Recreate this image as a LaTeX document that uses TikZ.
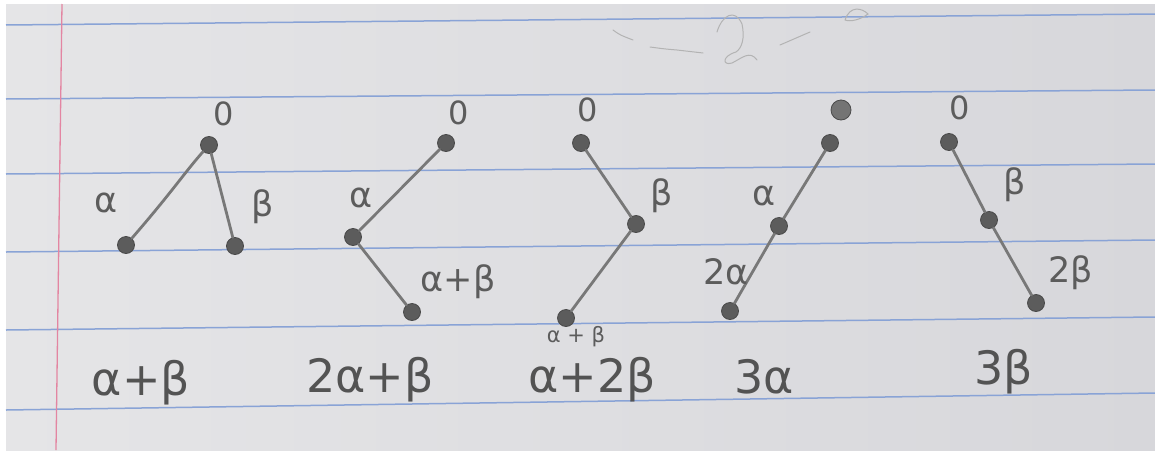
\documentclass[tikz,border=0pt]{standalone}
\usepackage{fontspec}
\newfontfamily\hand{DejaVu Sans}
\usetikzlibrary{calc}
\definecolor{paper}{HTML}{E5E5E7}
\definecolor{paperdark}{HTML}{D7D7DB}
\definecolor{ruleblue}{HTML}{89A3D6}
\definecolor{marginred}{HTML}{E385A2}
\definecolor{pencil}{HTML}{5C5C5C}
\definecolor{pencillight}{HTML}{787878}
\definecolor{faint}{HTML}{B3B3B3}
\tikzset{
  vtx/.style={circle, fill=pencil, draw=pencil!80!black, line width=0.8pt, minimum size=17pt, inner sep=0pt},
  edgeline/.style={draw=pencillight, line width=2.8pt, line cap=round},
  lbl/.style={text=pencil, inner sep=0pt, font=\hand\fontsize{35}{37}\selectfont},
  smalllbl/.style={text=pencil, inner sep=0pt, font=\hand\fontsize{21}{23}\selectfont},
  biglbl/.style={text=pencil!90!black, inner sep=0pt, font=\hand\fontsize{46}{50}\selectfont},
  zerolbl/.style={text=pencil, inner sep=0pt, font=\hand\fontsize{32}{34}\selectfont},
  ruleline/.style={draw=ruleblue, line width=1.5pt},
  marginline/.style={draw=marginred, line width=1.3pt},
  scribble/.style={draw=faint, line width=1pt, line cap=round}
}
\begin{document}
\begin{tikzpicture}[x=1pt,y=-1pt]
\useasboundingbox (0,0) rectangle (1155,450);
\fill[white] (0,0) rectangle (1155,450);
\shade[left color=paper, right color=paperdark] (6,4) rectangle (1155,450);
% ruled lines
\foreach \a/\b in {25/14, 99/90, 174/164, 252/240, 330/317, 410/393}
  \draw[ruleline] (6,\a) -- (1155,\b);
% margin
\draw[marginline] (62,4) -- (56,450);
% faint scribbles
\draw[scribble] (613,30) .. controls (620,35) .. (633,40);
\draw[scribble] (650,47) .. controls (665,49) .. (677,50) .. controls (690,52) .. (703,53);
\draw[scribble] (717,32) .. controls (722,15) and (735,8) .. (742,24) .. controls (745,38) and (742,48) .. (736,52) .. controls (722,56) and (722,66) .. (732,63) .. controls (742,58) and (750,50) .. (757,60);
\draw[scribble] (780,45) -- (810,32);
\draw[scribble] (845,20) .. controls (850,5) and (862,8) .. (868,14) .. controls (860,20) and (850,22) .. (845,20);

% graph 1
\node[vtx] (t1) at (209,145) {};
\node[vtx] (l1) at (126,245) {};
\node[vtx] (r1) at (235,246) {};
\draw[edgeline] (t1) .. controls (185,172) and (172,192) .. (l1);
\draw[edgeline] (t1) -- (r1);
\node[zerolbl] (z1) at (224,114) {0};
\node[lbl] (a1) at (106,203) {α};
\node[lbl] (b1) at (263,207) {β};

% graph 2
\node[vtx] (t2) at (446,143) {};
\node[vtx] (m2) at (353,237) {};
\node[vtx] (b2) at (412,312) {};
\draw[edgeline] (t2) -- (m2);
\draw[edgeline] (m2) -- (b2);
\node[zerolbl] (z2) at (459,113) {0};
\node[lbl] (a2) at (361,198) {α};
\node[lbl] (ab2) at (458,282) {α+β};

% graph 3
\node[vtx] (t3) at (581,143) {};
\node[vtx] (m3) at (636,224) {};
\node[vtx] (b3) at (566,318) {};
\draw[edgeline] (t3) -- (m3);
\draw[edgeline] (m3) -- (b3);
\node[zerolbl] (z3) at (588,110) {0};
\node[lbl] (bb3) at (662,196) {β};
\node[smalllbl] (ab3) at (576,337) {α + β};

% graph 4
\node[vtx, fill=pencil!85, minimum size=20pt] (z4) at (841,110) {};
\node[vtx] (t4) at (830,143) {};
\node[vtx] (m4) at (779,226) {};
\node[vtx] (b4) at (730,311) {};
\draw[edgeline] (t4) -- (m4);
\draw[edgeline] (m4) -- (b4);
\node[lbl] (a4) at (764,196) {α};
\node[lbl] (aa4) at (726,272) {2α};

% graph 5
\node[vtx] (t5) at (949,142) {};
\node[vtx] (m5) at (989,220) {};
\node[vtx] (b5) at (1036,303) {};
\draw[edgeline] (t5) -- (m5);
\draw[edgeline] (m5) -- (b5);
\node[zerolbl] (z5) at (960,108) {0};
\node[lbl] (bb5) at (1015,185) {β};
\node[lbl] (bbb5) at (1071,273) {2β};

% bottom labels
\node[biglbl] (s1) at (141,383) {α+β};
\node[biglbl] (s2) at (370,380) {2α+β};
\node[biglbl] (s3) at (592,380) {α+2β};
\node[biglbl] (s4) at (764,377) {3α};
\node[biglbl] (s5) at (1004,372) {3β};
\end{tikzpicture}
\end{document}
